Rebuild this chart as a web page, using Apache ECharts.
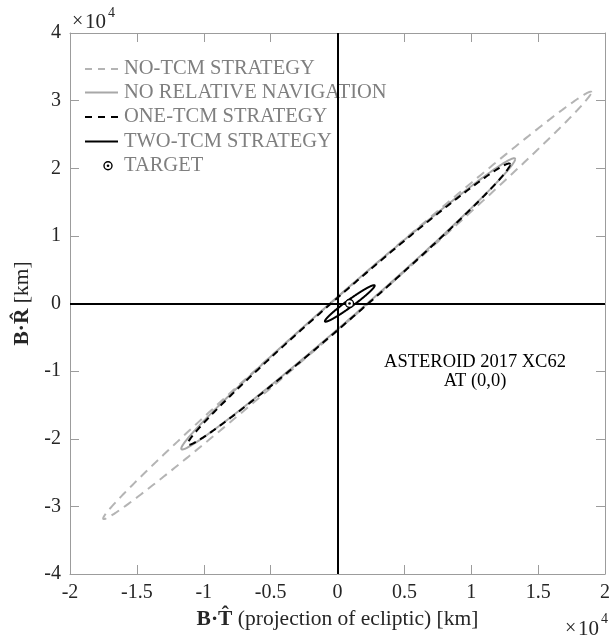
<!DOCTYPE html>
<html>
<head>
<meta charset="utf-8">
<script src="https://cdn.jsdelivr.net/npm/echarts@6/dist/echarts.min.js"></script>
<style>
  html, body { margin: 0; padding: 0; background: #fff; }
  #chart { width: 613px; height: 642px; }
</style>
</head>
<body>
<div id="chart"></div>
<script>
// B-plane dispersion ellipses, in km.
// Each ellipse is described by its centre, its half-extent along T and R,
// and the phase lag between the T and R components (radians): the smaller
// the lag, the thinner the ellipse.
const ellipseNames = ['NO-TCM STRATEGY', 'NO RELATIVE NAVIGATION', 'ONE-TCM STRATEGY', 'TWO-TCM STRATEGY'];
const centerT  = [730, 800, 850, 920];
const centerR  = [-280, -50, -100, 10];
const halfT    = [18250, 12480, 12050, 1860];
const halfR    = [31600, 21530, 20800, 2700];
const phaseLag = [0.078, 0.112, 0.116, 0.24];

// Target point
const targetT = [900];
const targetR = [0];

// Axes
const xMin = -20000, xMax = 20000, xStep = 5000;
const yMin = -40000, yMax = 40000, yStep = 10000;
const xTickLabels = ['-2', '-1.5', '-1', '-0.5', '0', '0.5', '1', '1.5', '2'];
const yTickLabels = ['-4', '-3', '-2', '-1', '0', '1', '2', '3', '4'];

const SERIF = '"Liberation Serif", "Times New Roman", serif';
const BOX = '#9c9c9c';
const TXT = '#262626';

const lineLooks = [
  { color: '#b4b4b4', dash: [9, 6] },
  { color: '#a8a8a8', dash: null },
  { color: '#000000', dash: [7, 5] },
  { color: '#000000', dash: null }
];

function ellipseSeries(i) {
  return {
    type: 'custom',
    name: ellipseNames[i],
    coordinateSystem: 'cartesian2d',
    xAxisIndex: 0,
    yAxisIndex: 0,
    silent: true,
    z: 3 + i,
    data: [[centerT[i], centerR[i]]],
    renderItem: function (params, api) {
      const pts = [];
      const n = 480;
      for (let k = 0; k <= n; k++) {
        const t = 2 * Math.PI * k / n;
        pts.push(api.coord([
          centerT[i] + halfT[i] * Math.cos(t),
          centerR[i] + halfR[i] * Math.cos(t - phaseLag[i])
        ]));
      }
      return {
        type: 'polyline',
        shape: { points: pts },
        style: {
          stroke: lineLooks[i].color,
          lineWidth: 2,
          lineDash: lineLooks[i].dash,
          fill: null
        }
      };
    }
  };
}

const tickLabel = (labels, min, step) => (v) => {
  const idx = Math.round((v - min) / step);
  return labels[idx] !== undefined ? labels[idx] : '';
};

const axisCommon = {
  type: 'value',
  axisLine: { show: true, onZero: false, lineStyle: { color: BOX, width: 1 } },
  axisTick: { show: true, inside: true, length: 9, lineStyle: { color: BOX, width: 1 } },
  splitLine: { show: false }
};

// Legend drawn as graphic elements
const legendRows = [69, 92.5, 117, 141.5, 165.7];
const legendTexts = ellipseNames.concat(['TARGET']);
const legendGraphics = [];
ellipseNames.forEach((name, i) => {
  legendGraphics.push({
    type: 'line',
    shape: { x1: 85, y1: legendRows[i], x2: 118, y2: legendRows[i] },
    style: { stroke: lineLooks[i].color, lineWidth: 2, lineDash: lineLooks[i].dash ? [7, 6] : null }
  });
});
legendGraphics.push({
  type: 'circle', shape: { cx: 108, cy: legendRows[4], r: 4 },
  style: { stroke: '#000', lineWidth: 1.4, fill: '#fff' }
});
legendGraphics.push({
  type: 'circle', shape: { cx: 108, cy: legendRows[4], r: 1.3 },
  style: { fill: '#000' }
});
legendTexts.forEach((t, i) => {
  legendGraphics.push({
    type: 'text',
    x: 124, y: legendRows[i],
    style: { text: t, font: '20.5px ' + SERIF, fill: '#7f7f7f', verticalAlign: 'middle', align: 'left' }
  });
});

const chart = echarts.init(document.getElementById('chart'), null, { renderer: 'canvas' });

chart.setOption({
  backgroundColor: '#ffffff',
  animation: false,
  grid: { left: 70, top: 33, width: 537, height: 541, containLabel: false },
  xAxis: [
    Object.assign({}, axisCommon, {
      position: 'bottom',
      min: xMin, max: xMax, interval: xStep,
      axisLabel: {
        formatter: tickLabel(xTickLabels, xMin, xStep),
        fontFamily: SERIF, fontSize: 20, color: TXT, margin: 9
      },
      name: '{b|B·T\u0302}{r|\u00a0(projection of ecliptic) [km]}',
      nameLocation: 'middle',
      nameGap: 34,
      nameTextStyle: {
        rich: {
          b: { fontFamily: SERIF, fontSize: 21.5, fontWeight: 'bold', color: TXT },
          r: { fontFamily: SERIF, fontSize: 21.5, color: TXT }
        }
      }
    }),
    Object.assign({}, axisCommon, {
      position: 'top',
      min: xMin, max: xMax, interval: xStep,
      axisLabel: { show: false }
    })
  ],
  yAxis: [
    Object.assign({}, axisCommon, {
      position: 'left',
      min: yMin, max: yMax, interval: yStep,
      axisLabel: {
        formatter: tickLabel(yTickLabels, yMin, yStep),
        fontFamily: SERIF, fontSize: 20, color: TXT, margin: 9
      },
      name: '{b|B·R\u0302}{r|\u00a0[km]}',
      nameLocation: 'middle',
      nameRotate: 90,
      nameGap: 34,
      nameTextStyle: {
        rich: {
          b: { fontFamily: SERIF, fontSize: 21.5, fontWeight: 'bold', color: TXT },
          r: { fontFamily: SERIF, fontSize: 21.5, color: TXT }
        }
      }
    }),
    Object.assign({}, axisCommon, {
      position: 'right',
      min: yMin, max: yMax, interval: yStep,
      axisLabel: { show: false }
    })
  ],
  series: [
    // Zero lines through the origin
    {
      type: 'scatter',
      data: [],
      silent: true,
      z: 2,
      markLine: {
        silent: true,
        symbol: ['none', 'none'],
        label: { show: false },
        lineStyle: { color: '#000', width: 2, type: 'solid' },
        data: [{ xAxis: 0 }, { yAxis: 0 }]
      }
    },
    ellipseSeries(0),
    ellipseSeries(1),
    ellipseSeries(2),
    ellipseSeries(3),
    {
      type: 'scatter',
      name: 'TARGET',
      silent: true,
      z: 10,
      symbol: 'circle',
      symbolSize: 8,
      itemStyle: { color: '#fff', borderColor: '#000', borderWidth: 1.4, opacity: 1 },
      data: targetT.map((t, i) => [t, targetR[i]])
    },
    {
      type: 'scatter',
      silent: true,
      z: 11,
      symbol: 'circle',
      symbolSize: 2.6,
      itemStyle: { color: '#000', opacity: 1 },
      data: targetT.map((t, i) => [t, targetR[i]])
    }
  ],
  graphic: [
    // exponent notes
    { type: 'text', x: 72, y: 22, style: { text: '×', font: '20px ' + SERIF, fill: TXT, verticalAlign: 'middle' } },
    { type: 'text', x: 85, y: 22, style: { text: '10', font: '21px ' + SERIF, fill: TXT, verticalAlign: 'middle' } },
    { type: 'text', x: 108, y: 13, style: { text: '4', font: '14px ' + SERIF, fill: TXT, verticalAlign: 'middle' } },
    { type: 'text', x: 565, y: 629, style: { text: '×', font: '20px ' + SERIF, fill: TXT, verticalAlign: 'middle' } },
    { type: 'text', x: 578, y: 629, style: { text: '10', font: '21px ' + SERIF, fill: TXT, verticalAlign: 'middle' } },
    { type: 'text', x: 601, y: 619, style: { text: '4', font: '14px ' + SERIF, fill: TXT, verticalAlign: 'middle' } },
    // annotation
    { type: 'text', x: 475, y: 362, style: { text: 'ASTEROID 2017 XC62', font: '18.5px ' + SERIF, fill: '#000', align: 'center', verticalAlign: 'middle' } },
    { type: 'text', x: 475, y: 381, style: { text: 'AT (0,0)', font: '18.5px ' + SERIF, fill: '#000', align: 'center', verticalAlign: 'middle' } }
  ].concat(legendGraphics)
});
</script>
</body>
</html>
